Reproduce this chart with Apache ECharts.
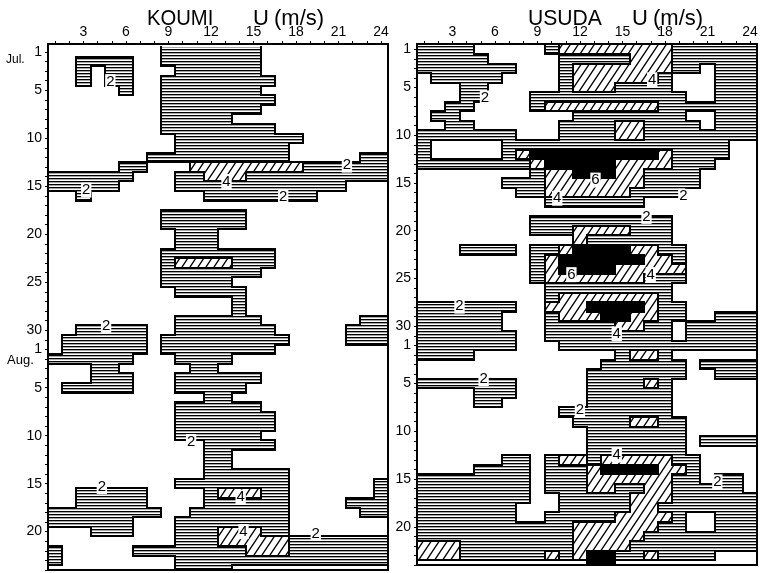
<!DOCTYPE html>
<html><head><meta charset="utf-8">
<script src="https://cdn.jsdelivr.net/npm/echarts@6/dist/echarts.min.js"></script>
<style>html,body{margin:0;padding:0;background:#fff}#c{width:763px;height:573px}</style>
</head><body><div id="c"></div>
<script>
const HOURS = [1,2,3,4,5,6,7,8,9,10,11,12,13,14,15,16,17,18,19,20,21,22,23,24];
const DAYS = [1,2,3,4,5,6,7,8,9,10,11,12,13,14,15,16,17,18,19,20,21,22,23,24,25,26,27,28,29,30,31,32,33,34,35,36,37,38,39,40,41,42,43,44,45,46,47,48,49,50,51,52,53,54,55];
const HOUR_TICKS = [3,6,9,12,15,18,21,24];
const DAY_TICKS = [1,5,10,15,20,25,30,32,36,41,46,51];
const DAY_TICK_LABELS = ['1','5','10','15','20','25','30','1','5','10','15','20'];

// level per (day row, hour column): 0 <2, 1 2-4, 2 4-6, 3 >6 m/s
const KOUMI_LEVELS = [
"000000001111111000000000",
"001111001111111000000000",
"001011000111111000000000",
"001011001111111100000000",
"000001001111111000000000",
"000000001111111100000000",
"000000001111111000000000",
"000000001111100000000000",
"000000001111111100000000",
"000000000111111111000000",
"000000000111111110000000",
"000000011111111110000011",
"000001100022222222111111",
"111111000112221111111111",
"111110000111111111111000",
"001000000001111111100000",
"000000000000000000000000",
"000000001111110000000000",
"000000001111110000000000",
"000000000111000000000000",
"000000000111000000000000",
"000000001111111100000000",
"000000001222211100000000",
"000000001111111000000000",
"000000001111100000000000",
"000000000111110000000000",
"000000000000010000000000",
"000000000000010000000000",
"000000000111111000000011",
"001111100111111100000111",
"011111101111111110000111",
"011111101111111100000000",
"111111000111100000000000",
"000110000011000000000000",
"000111000111111000000000",
"011111000111110000000000",
"000000000001100000000000",
"000000000111111000000000",
"000000000111111100000000",
"000000000111111100000000",
"000000000111111000000000",
"000000000001111100000000",
"000000000001100000000000",
"000000000001100000000000",
"000000000001111110000000",
"000000000111111110000001",
"001111100001222110000001",
"001111100001111110000111",
"111111110011111110000011",
"111111000111111110000000",
"000111000111222110000000",
"000000000111222221111111",
"100000111111112221111111",
"100000000111111111111111",
"000000000111100000000000"
];
const USUDA_LEVELS = [
"111100000122222222111111",
"111110000011111222111111",
"111111100012222222110111",
"011111000012222221000111",
"000110000012221111000111",
"000110001111111111100111",
"001100001222222221111111",
"011000000001111111100111",
"001100000011112211110111",
"111111100011112211111111",
"100000111111111111111100",
"100000123333333332111100",
"111111112333332222111000",
"000000001223332211110000",
"000000111222222211110000",
"000000011222222111100000",
"000000000111111100000000",
"000000000000000000000000",
"000000001111111111000000",
"000000001112222111000000",
"000000000002111111000000",
"000111101123333221100000",
"000000001233333322100000",
"000000001233332222200000",
"000000001222222211100000",
"000000000111111111000000",
"000000000122222221000000",
"111111100222333321100000",
"111111000122233221100111",
"111111000111112211011111",
"111111100111111111011111",
"111111100011111111111111",
"111100000000001221000000",
"000000000000011111101111",
"000000000000111111100111",
"111111100000111121000000",
"000011100000111111000000",
"000011000000111111000000",
"000000000011111111000000",
"000000000001111221100000",
"000000000000111111100000",
"000000000000111111101111",
"000000000000111111100000",
"000000110122122222110000",
"000011110111233332210000",
"111111110111222222110110",
"111111110111221122111110",
"111111110011111222111111",
"111111100011111221111111",
"111111100111112222100111",
"111111111112222221100111",
"111111111112222211111111",
"222111111112222111111111",
"222111111212331121111000",
"000000000000330000000000"
];
// contour labels: [hour, day, text]
const KOUMI_CONTOUR_LABELS = [
 [4.9, 4.1, '2'], [21.6, 12.8, '2'], [13.1, 14.5, '4'], [3.2, 15.4, '2'], [17.1, 16.1, '2'],
 [4.6, 29.5, '2'], [10.6, 41.6, '2'], [14.1, 47.4, '4'], [4.3, 46.3, '2'], [14.3, 51.0, '4'], [19.4, 51.2, '2']
];
const USUDA_CONTOUR_LABELS = [
 [17.1, 4.2, '4'], [5.3, 6.1, '2'], [13.1, 14.7, '6'], [10.4, 16.6, '4'], [19.3, 16.4, '2'],
 [16.7, 18.5, '2'], [11.4, 24.6, '6'], [17.0, 24.6, '4'], [3.5, 27.9, '2'], [14.6, 30.8, '4'],
 [5.2, 35.5, '2'], [12.0, 38.8, '2'], [14.6, 43.5, '4'], [21.7, 46.3, '2']
];

const FONT = 'Liberation Sans, Arial, sans-serif';

function hatchCanvas(kind) {
  const c = document.createElement('canvas');
  if (kind === 'h') {
    c.width = 8; c.height = 3;
    const g = c.getContext('2d');
    g.fillStyle = '#000'; g.fillRect(0, 1, 8, 1);
    g.fillStyle = 'rgba(0,0,0,0.35)'; g.fillRect(0, 2, 8, 1);
  } else {
    c.width = 8; c.height = 12;
    const g = c.getContext('2d');
    g.strokeStyle = '#000'; g.lineWidth = 1.3;
    g.beginPath();
    g.moveTo(-1, 13.5); g.lineTo(9, -1.5);
    g.moveTo(-1, 1.5); g.lineTo(1, -1.5);
    g.moveTo(7, 13.5); g.lineTo(9, 10.5);
    g.stroke();
  }
  return c;
}
const FILLS = [null, {image: hatchCanvas('h'), repeat: 'repeat'}, {image: hatchCanvas('d'), repeat: 'repeat'}, '#000'];

function cellData(rows) {
  const out = [];
  rows.forEach((r, i) => { for (let j = 0; j < HOURS.length; j++) out.push([HOURS[j], DAYS[i], Number(r[j])]); });
  return out;
}
function cellBox(api) {
  const h = api.value(0), d = api.value(1);
  const a = api.coord([h - 0.5, d - 0.5]), b = api.coord([h + 0.5, d + 0.5]);
  return {x0: Math.round(a[0]), y0: Math.round(a[1]), x1: Math.round(b[0]), y1: Math.round(b[1]), h, d};
}
function fillRender(params, api) {
  const lv = api.value(2);
  if (!lv) return null;
  const c = cellBox(api);
  return {type: 'rect', shape: {x: c.x0, y: c.y0, width: c.x1 - c.x0, height: c.y1 - c.y0}, style: {fill: FILLS[lv]}};
}
function outlineRender(rows) {
  return function (params, api) {
    const c = cellBox(api);
    const i = c.d - 1, j = c.h - 1;
    const lv = rows[i][j];
    const st = {stroke: '#000', lineWidth: 2, lineCap: 'square'};
    const kids = [];
    if (j < 23 && rows[i][j + 1] !== lv) kids.push({type: 'line', shape: {x1: c.x1, y1: c.y0, x2: c.x1, y2: c.y1}, style: st});
    if (i < rows.length - 1 && rows[i + 1][j] !== lv) kids.push({type: 'line', shape: {x1: c.x0, y1: c.y1, x2: c.x1, y2: c.y1}, style: st});
    return kids.length ? {type: 'group', children: kids} : null;
  };
}
function labelRender(list) {
  return function (params, api) {
    const p = api.coord([api.value(0), api.value(1)]);
    return {type: 'text', x: p[0], y: p[1], style: {text: list[params.dataIndex][2], fill: '#000',
      font: '15px ' + FONT, align: 'center', verticalAlign: 'middle', backgroundColor: '#fff', padding: [0, 1]}};
  };
}

function xAxisFor(idx) {
  return {
    gridIndex: idx, type: 'value', position: 'top', min: 0.5, max: 24.5,
    axisLine: {show: false},
    axisTick: {show: true, customValues: HOURS, length: 3, lineStyle: {color: '#000', width: 1}},
    axisLabel: {customValues: HOUR_TICKS, fontSize: 14, color: '#000', margin: 5, fontFamily: FONT},
    splitLine: {show: false}
  };
}
function yAxisFor(idx, min) {
  return {
    gridIndex: idx, type: 'value', inverse: true, min: min, max: 55,
    axisLine: {show: false},
    axisTick: {show: true, customValues: DAYS, length: 3, lineStyle: {color: '#000', width: 1}},
    axisLabel: {customValues: DAY_TICKS, fontSize: 14, color: '#000', margin: 6, fontFamily: FONT,
      formatter: v => DAY_TICK_LABELS[DAY_TICKS.indexOf(v)]},
    splitLine: {show: false}
  };
}
function labelSeries(idx, list) {
  return {
    type: 'custom', xAxisIndex: idx, yAxisIndex: idx, silent: true, z: 10, clip: false,
    renderItem: labelRender(list),
    data: list.map(l => [l[0], l[1]])
  };
}

const chart = echarts.init(document.getElementById('c'), null, {renderer: 'canvas'});
chart.setOption({
  animation: false,
  backgroundColor: '#fff',
  grid: [
    {left: 48, top: 44, width: 340, height: 526, show: true, borderColor: '#000', borderWidth: 2, backgroundColor: 'rgba(0,0,0,0)', z: 5},
    {left: 417, top: 44, width: 340, height: 521, show: true, borderColor: '#000', borderWidth: 2, backgroundColor: 'rgba(0,0,0,0)', z: 5}
  ],
  xAxis: [xAxisFor(0), xAxisFor(1)],
  yAxis: [yAxisFor(0, 0.17), yAxisFor(1, 0.45)],
  series: [
    {type: 'custom', xAxisIndex: 0, yAxisIndex: 0, renderItem: fillRender, data: cellData(KOUMI_LEVELS), clip: true, silent: true, z: 1},
    {type: 'custom', xAxisIndex: 0, yAxisIndex: 0, renderItem: outlineRender(KOUMI_LEVELS), data: cellData(KOUMI_LEVELS), clip: true, silent: true, z: 2},
    {type: 'custom', xAxisIndex: 1, yAxisIndex: 1, renderItem: fillRender, data: cellData(USUDA_LEVELS), clip: true, silent: true, z: 1},
    {type: 'custom', xAxisIndex: 1, yAxisIndex: 1, renderItem: outlineRender(USUDA_LEVELS), data: cellData(USUDA_LEVELS), clip: true, silent: true, z: 2},
    labelSeries(0, KOUMI_CONTOUR_LABELS),
    labelSeries(1, USUDA_CONTOUR_LABELS)
  ],
  graphic: [
    {type: 'text', x: 147, y: 19, scaleX: 0.92, style: {text: 'KOUMI', fontSize: 22, fontFamily: FONT, fill: '#000', verticalAlign: 'middle'}},
    {type: 'text', x: 253, y: 19, style: {text: 'U', fontSize: 22, fontFamily: FONT, fill: '#000', verticalAlign: 'middle'}},
    {type: 'text', x: 274, y: 19, style: {text: '(m/s)', fontSize: 22, fontFamily: FONT, fill: '#000', verticalAlign: 'middle'}},
    {type: 'text', x: 528, y: 19, scaleX: 0.96, style: {text: 'USUDA', fontSize: 22, fontFamily: FONT, fill: '#000', verticalAlign: 'middle'}},
    {type: 'text', x: 632, y: 19, style: {text: 'U', fontSize: 22, fontFamily: FONT, fill: '#000', verticalAlign: 'middle'}},
    {type: 'text', x: 653, y: 19, style: {text: '(m/s)', fontSize: 22, fontFamily: FONT, fill: '#000', verticalAlign: 'middle'}},
    {type: 'text', x: 6, y: 60, style: {text: 'Jul.', fontSize: 12, fontFamily: FONT, fill: '#000', verticalAlign: 'middle'}},
    {type: 'text', x: 7, y: 360, style: {text: 'Aug.', fontSize: 13, fontFamily: FONT, fill: '#000', verticalAlign: 'middle'}}
  ]
});
</script></body></html>
